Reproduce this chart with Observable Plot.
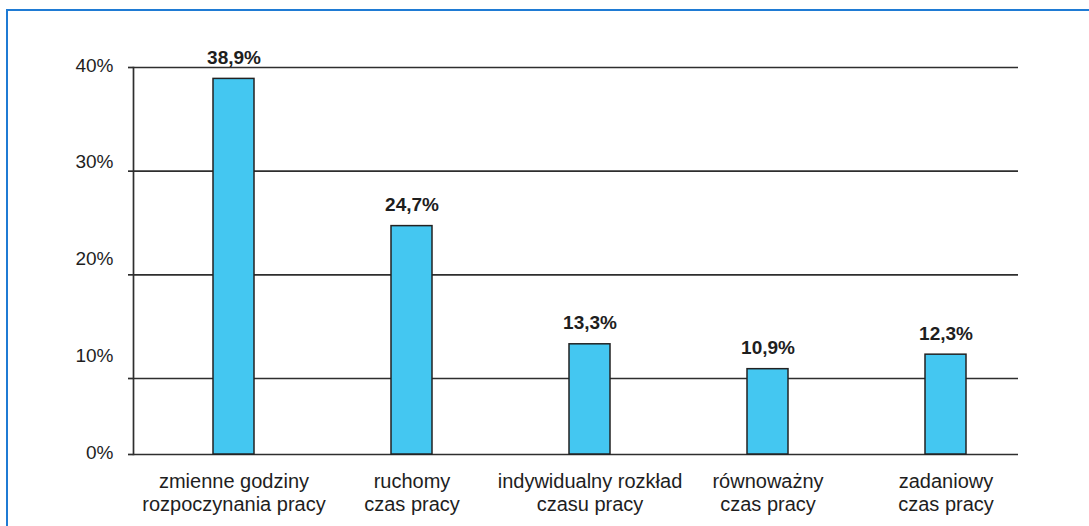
<!DOCTYPE html>
<html>
<head>
<meta charset="utf-8">
<script src="https://cdn.jsdelivr.net/npm/d3@7"></script>
<script src="https://cdn.jsdelivr.net/npm/@observablehq/plot@0.6"></script>
<style>
  html, body { margin: 0; padding: 0; background: #ffffff; overflow: hidden; }
  #wrap { position: relative; width: 1089px; height: 526px; overflow: hidden; }
  #wrap svg { position: absolute; left: 0; top: 0; }
  #border { position: absolute; left: 6px; top: 9px; width: 2000px; height: 2000px;
            border-top: 2px solid #1f7bd4; border-left: 2px solid #1f7bd4; box-sizing: border-box; }
</style>
</head>
<body>
<div id="wrap"><div id="border"></div></div>
<script>
const categories = [
  "zmienne godziny\nrozpoczynania pracy",
  "ruchomy\nczas pracy",
  "indywidualny rozkład\nczasu pracy",
  "równoważny\nczas pracy",
  "zadaniowy\nczas pracy"
];
const values = [38.9, 24.7, 13.3, 10.9, 12.3];
const valueLabels = ["38,9%", "24,7%", "13,3%", "10,9%", "12,3%"];
const yTicks = [0, 10, 20, 30, 40];
const yTickLabels = ["0%", "10%", "20%", "30%", "40%"];

const data = categories.map((c, i) => ({category: c, value: values[i], label: valueLabels[i]}));

const FONT = "'Liberation Sans', Arial, Helvetica, sans-serif";
const wrap = document.getElementById("wrap");

const main = Plot.plot({
  width: 1089,
  height: 526,
  marginLeft: 133,
  marginRight: 71,
  marginTop: 67,
  marginBottom: 72,
  style: {fontFamily: FONT, fontSize: "19px", color: "#1a1a1a", background: "transparent", overflow: "visible"},
  x: {domain: categories, range: [144, 1035], paddingInner: 0.767, paddingOuter: 0.383, label: null},
  y: {domain: [2.67, 40], clamp: true, label: null},
  marks: [
    Plot.ruleY(yTicks, {stroke: "#2e2e2e", strokeWidth: 1.7}),
    Plot.frame({anchor: "left", stroke: "#2e2e2e", strokeWidth: 1.7}),
    Plot.axisY(yTicks, {tickSize: 5, tickFormat: () => "", stroke: "#2e2e2e", strokeWidth: 1.7}),
    Plot.barY(data, {x: "category", y: "value", fill: "#44c7f1", stroke: "#222222", strokeWidth: 1.5}),
    Plot.text(data, {x: "category", y: "value", text: "label", lineAnchor: "bottom", dy: -15,
                     fontWeight: "bold", fontSize: 19, fill: "#1e1e1e"}),
    Plot.axisX({tickSize: 0, tickPadding: 17, lineHeight: 1.15, fontSize: 20, fill: "#1e1e1e", label: null})
  ]
});
wrap.appendChild(main);

const labels = Plot.plot({
  width: 1089,
  height: 526,
  marginLeft: 133,
  marginRight: 71,
  marginTop: 65,
  marginBottom: 74,
  style: {fontFamily: FONT, fontSize: "19px", color: "#1a1a1a", background: "transparent", pointerEvents: "none"},
  y: {domain: [0, 40], label: null},
  marks: [
    Plot.axisY(yTicks, {tickSize: 0, tickPadding: 20, fontSize: 19, fill: "#1e1e1e",
                        tickFormat: d => yTickLabels[yTicks.indexOf(d)]})
  ]
});
wrap.appendChild(labels);
</script>
</body>
</html>
